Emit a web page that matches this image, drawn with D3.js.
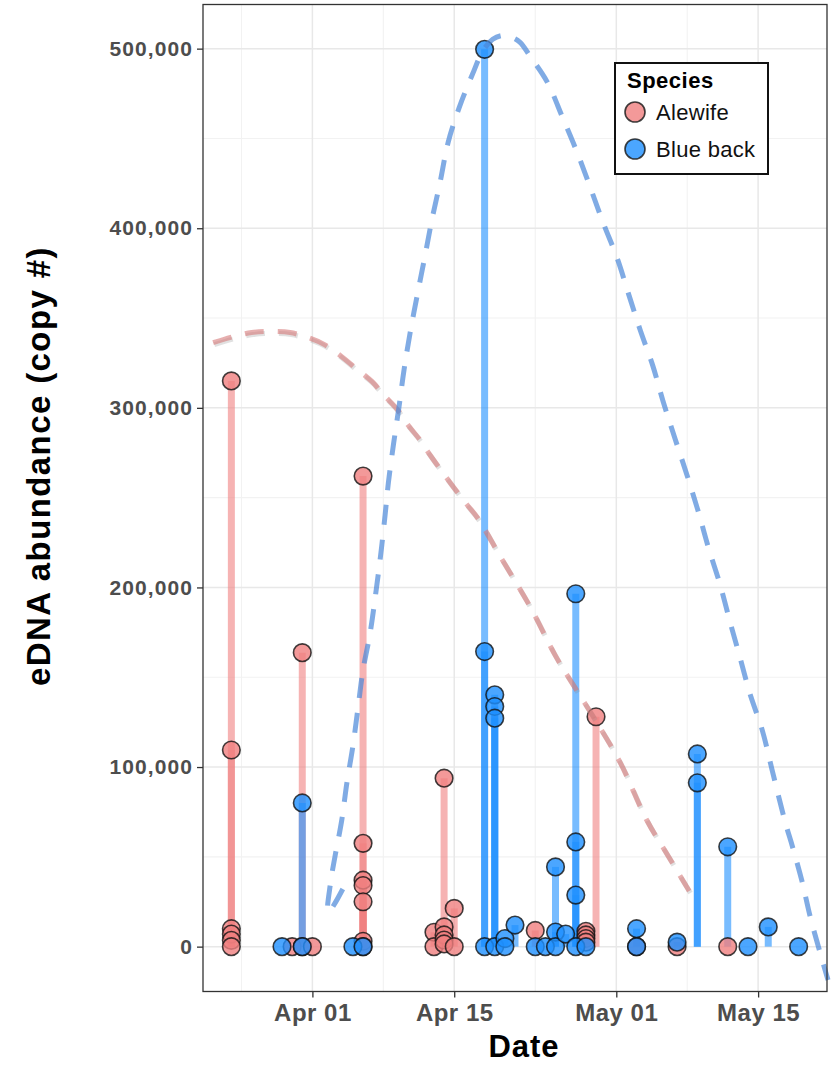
<!DOCTYPE html>
<html>
<head>
<meta charset="utf-8">
<script src="https://cdn.jsdelivr.net/npm/d3@7"></script>
<style>
  html, body { margin: 0; padding: 0; background: #fff; }
  svg { display: block; font-family: "Liberation Sans", Arial, Helvetica, sans-serif; }
</style>
</head>
<body>
<svg id="chart" width="833" height="1065"></svg>
<script>
// ---------------- DATA ----------------
const species = ["Alewife", "Blue back"];

// [sample date, eDNA copies]
const alewife = [
  ["2015-03-24", 315000], ["2015-03-24", 109500], ["2015-03-24", 10000],
  ["2015-03-24", 7000], ["2015-03-24", 3500], ["2015-03-24", 0],
  ["2015-03-30", 0],
  ["2015-03-31", 163700], ["2015-03-31", 0],
  ["2015-04-01", 0],
  ["2015-04-06", 262000], ["2015-04-06", 57500], ["2015-04-06", 37000],
  ["2015-04-06", 34000], ["2015-04-06", 25000], ["2015-04-06", 3000], ["2015-04-06", 0],
  ["2015-04-13", 8000], ["2015-04-13", 0],
  ["2015-04-14", 93800], ["2015-04-14", 11000], ["2015-04-14", 6500],
  ["2015-04-14", 3700], ["2015-04-14", 1500],
  ["2015-04-15", 21300], ["2015-04-15", 0],
  ["2015-04-23", 9000],
  ["2015-04-28", 8500], ["2015-04-28", 6500], ["2015-04-28", 4500], ["2015-04-28", 2500],
  ["2015-04-29", 128000],
  ["2015-05-03", 0],
  ["2015-05-07", 0],
  ["2015-05-12", 0]
];

const blueback = [
  ["2015-03-29", 0],
  ["2015-03-31", 80000], ["2015-03-31", 0],
  ["2015-04-05", 0],
  ["2015-04-06", 0],
  ["2015-04-18", 499600], ["2015-04-18", 164300], ["2015-04-18", 0],
  ["2015-04-19", 140200], ["2015-04-19", 133700], ["2015-04-19", 127200], ["2015-04-19", 0],
  ["2015-04-20", 4500], ["2015-04-20", 0],
  ["2015-04-21", 12000],
  ["2015-04-23", 0],
  ["2015-04-24", 0],
  ["2015-04-25", 44400], ["2015-04-25", 8100], ["2015-04-25", 0],
  ["2015-04-26", 7000],
  ["2015-04-27", 196500], ["2015-04-27", 58300], ["2015-04-27", 28700], ["2015-04-27", 0],
  ["2015-04-28", 0],
  ["2015-05-03", 10000], ["2015-05-03", 0],
  ["2015-05-07", 2500],
  ["2015-05-09", 107300], ["2015-05-09", 91200],
  ["2015-05-12", 55600],
  ["2015-05-14", 0],
  ["2015-05-16", 11000],
  ["2015-05-19", 0]
];

// dashed trend curves: [days after trendBase, copies]
const trendBase = "2015-04-01";
const alewifeTrend = [
  [-9.8, 336300], [-7.8, 339700], [-6.0, 341900], [-4.2, 342500], [-2.2, 341900],
  [-0.4, 339100], [1.2, 335200], [2.9, 328500], [4.2, 322400], [5.9, 314600],
  [7.0, 307400], [8.4, 299000], [9.4, 290700], [10.6, 282300], [11.6, 273900],
  [12.8, 264500], [13.9, 256100], [15.1, 247200], [16.3, 238800], [18.5, 217700],
  [21.5, 189200], [24.0, 161900], [26.0, 143500], [28.1, 124600], [30.4, 102300],
  [33.0, 70500], [35.0, 51600], [37.2, 31000]
];
const bluebackTrend = [
  [3.0, 32100], [1.55, 19000], [1.8, 35900], [2.2, 49300], [2.9, 70500],
  [3.4, 91100], [4.0, 111800], [4.5, 132900], [5.0, 154100], [5.7, 174700],
  [6.3, 198700], [6.8, 221000], [7.2, 241600], [7.5, 258300], [8.0, 279500],
  [8.55, 300600], [9.05, 321300], [9.65, 341900], [10.4, 364200], [11.1, 384200],
  [11.8, 404800], [12.6, 425500], [13.4, 447800], [14.5, 467300], [15.8, 485700],
  [16.8, 498500], [17.8, 505200], [18.8, 507400], [19.7, 506300], [20.5, 503500],
  [21.5, 495700], [23.2, 481200], [24.65, 462300], [26.1, 442700], [27.4, 423200],
  [28.7, 403100], [30.1, 383100], [31.2, 363600], [32.35, 343500], [33.6, 323500],
  [34.6, 304000], [35.8, 282800], [37.0, 262200], [38.1, 242100], [39.1, 222100],
  [40.25, 201500], [41.25, 180300], [42.25, 160200], [43.2, 140700], [44.4, 120700],
  [45.5, 95600], [46.7, 68800], [47.4, 55500], [48.35, 36000], [49.15, 16500],
  [50.1, -3000], [50.9, -18600]
];

const xTickDates = ["2015-04-01", "2015-04-15", "2015-05-01", "2015-05-15"];
const xMinorDates = ["2015-03-25", "2015-04-08", "2015-04-23", "2015-05-08"];
const yTicks = [0, 100000, 200000, 300000, 400000, 500000];
const yMinor = [50000, 150000, 250000, 350000, 450000];

// ---------------- STYLE ----------------
const colors = { "Alewife": "#F08080", "Blue back": "#1E90FF" };
const trendColors = { "Alewife": "#d67a7a", "Blue back": "#4a87d9" };

// ---------------- SCALES ----------------
const parse = d3.utcParse("%Y-%m-%d");
const svg = d3.select("#chart");
const P = { left: 203, right: 827, top: 4.5, bottom: 991.5 };

const rows = [
  ...alewife.map(d => ({ sp: "Alewife", date: parse(d[0]), v: d[1] })),
  ...blueback.map(d => ({ sp: "Blue back", date: parse(d[0]), v: d[1] }))
];

const tExt = d3.extent(rows, d => +d.date);
const tPad = (tExt[1] - tExt[0]) * 0.05;
const x = d3.scaleUtc()
  .domain([new Date(tExt[0] - tPad), new Date(tExt[1] + tPad)])
  .range([P.left, P.right]);

const vExt = d3.extent(rows, d => d.v);
const vPad = (vExt[1] - vExt[0]) * 0.05;
const y = d3.scaleLinear()
  .domain([vExt[0] - vPad, vExt[1] + vPad])
  .range([P.bottom, P.top]);

// ---------------- GRID ----------------
const grid = svg.append("g");
grid.selectAll("line.ymin").data(yMinor).join("line")
  .attr("x1", P.left).attr("x2", P.right)
  .attr("y1", d => y(d)).attr("y2", d => y(d))
  .attr("stroke", "#f2f2f2").attr("stroke-width", 1.1);
grid.selectAll("line.xmin").data(xMinorDates.map(parse)).join("line")
  .attr("y1", P.top).attr("y2", P.bottom)
  .attr("x1", d => x(d)).attr("x2", d => x(d))
  .attr("stroke", "#f2f2f2").attr("stroke-width", 1.1);
grid.selectAll("line.ymaj").data(yTicks).join("line")
  .attr("x1", P.left).attr("x2", P.right)
  .attr("y1", d => y(d)).attr("y2", d => y(d))
  .attr("stroke", "#e8e8e8").attr("stroke-width", 1.5);
grid.selectAll("line.xmaj").data(xTickDates.map(parse)).join("line")
  .attr("y1", P.top).attr("y2", P.bottom)
  .attr("x1", d => x(d)).attr("x2", d => x(d))
  .attr("stroke", "#e8e8e8").attr("stroke-width", 1.5);

// ---------------- STEMS ----------------
const stems = svg.append("g");
species.forEach(sp => {
  stems.selectAll(null).data(rows.filter(r => r.sp === sp && r.v > 0)).join("line")
    .attr("x1", d => x(d.date)).attr("x2", d => x(d.date))
    .attr("y1", y(0)).attr("y2", d => y(d.v))
    .attr("stroke", colors[sp]).attr("stroke-opacity", 0.6)
    .attr("stroke-width", 7);
});

// ---------------- POINTS ----------------
const pts = svg.append("g");
species.forEach(sp => {
  pts.selectAll(null).data(rows.filter(r => r.sp === sp)).join("circle")
    .attr("cx", d => x(d.date)).attr("cy", d => y(d.v)).attr("r", 8.8)
    .attr("fill", colors[sp]).attr("fill-opacity", 0.8)
    .attr("stroke", "#111").attr("stroke-opacity", 0.8).attr("stroke-width", 1.6);
});

// ---------------- TREND CURVES ----------------
const base = parse(trendBase);
const line = d3.line()
  .x(d => x(new Date(+base + d[0] * 864e5)))
  .y(d => y(d[1]))
  .curve(d3.curveCatmullRom.alpha(0.5));

svg.append("path").datum(alewifeTrend)
  .attr("d", line).attr("fill", "none")
  .attr("stroke", "#888").attr("stroke-opacity", 0.25).attr("stroke-width", 5)
  .attr("stroke-dasharray", "19,14").attr("transform", "translate(1.2,2)");
svg.append("path").datum(alewifeTrend)
  .attr("d", line).attr("fill", "none")
  .attr("stroke", trendColors["Alewife"]).attr("stroke-opacity", 0.6).attr("stroke-width", 5)
  .attr("stroke-dasharray", "19,14");
svg.append("path").datum(bluebackTrend)
  .attr("d", line).attr("fill", "none")
  .attr("stroke", trendColors["Blue back"]).attr("stroke-opacity", 0.7).attr("stroke-width", 5)
  .attr("stroke-dasharray", "20,15");

// ---------------- PANEL BORDER ----------------
svg.append("rect")
  .attr("x", P.left).attr("y", P.top)
  .attr("width", P.right - P.left).attr("height", P.bottom - P.top)
  .attr("fill", "none").attr("stroke", "#333").attr("stroke-width", 1.3);

// ---------------- AXES ----------------
const fmtDate = d3.utcFormat("%b %d");
const fmtNum = d3.format(",");

const xAxis = svg.append("g").attr("transform", `translate(0,${P.bottom})`)
  .call(d3.axisBottom(x).tickValues(xTickDates.map(parse)).tickFormat(fmtDate)
    .tickSize(6).tickPadding(6));
xAxis.select(".domain").remove();
xAxis.selectAll(".tick line").attr("stroke", "#333").attr("stroke-width", 1.3);
xAxis.selectAll(".tick text")
  .attr("fill", "#4d4d4d").attr("font-size", 24).attr("font-weight", "bold")
  .attr("font-family", "'Liberation Sans', Arial, sans-serif")
  .style("letter-spacing", "0.5px");

const yAxis = svg.append("g").attr("transform", `translate(${P.left},0)`)
  .call(d3.axisLeft(y).tickValues(yTicks).tickFormat(fmtNum)
    .tickSize(6).tickPadding(4));
yAxis.select(".domain").remove();
yAxis.selectAll(".tick line").attr("stroke", "#333").attr("stroke-width", 1.3);
yAxis.selectAll(".tick text")
  .attr("fill", "#4d4d4d").attr("font-size", 21).attr("font-weight", "bold")
  .attr("font-family", "'Liberation Sans', Arial, sans-serif")
  .style("letter-spacing", "1.1px");

// axis titles
svg.append("text")
  .attr("x", 524).attr("y", 1057)
  .attr("text-anchor", "middle")
  .attr("font-size", 31).attr("font-weight", "bold").attr("fill", "#000")
  .style("letter-spacing", "1px")
  .text("Date");

svg.append("text")
  .attr("transform", "translate(50,466) rotate(-90)")
  .attr("text-anchor", "middle")
  .attr("font-size", 33).attr("font-weight", "bold").attr("fill", "#000")
  .style("letter-spacing", "1.4px")
  .text("eDNA abundance (copy #)");

// ---------------- LEGEND ----------------
const lg = svg.append("g");
lg.append("rect")
  .attr("x", 615).attr("y", 63).attr("width", 153).attr("height", 111)
  .attr("fill", "#fff").attr("stroke", "#111").attr("stroke-width", 2);
lg.append("text")
  .attr("x", 627).attr("y", 88)
  .attr("font-size", 22).attr("font-weight", "bold").attr("fill", "#000")
  .style("letter-spacing", "0.5px")
  .text("Species");
const keyY = [112, 149];
species.forEach((sp, i) => {
  lg.append("circle")
    .attr("cx", 635).attr("cy", keyY[i]).attr("r", 10)
    .attr("fill", colors[sp]).attr("fill-opacity", 0.8)
    .attr("stroke", "#111").attr("stroke-opacity", 0.8).attr("stroke-width", 1.6);
  lg.append("text")
    .attr("x", 656).attr("y", keyY[i] + 8)
    .attr("font-size", 22).attr("fill", "#111")
    .style("letter-spacing", "0.3px")
    .text(sp);
});
</script>
</body>
</html>
